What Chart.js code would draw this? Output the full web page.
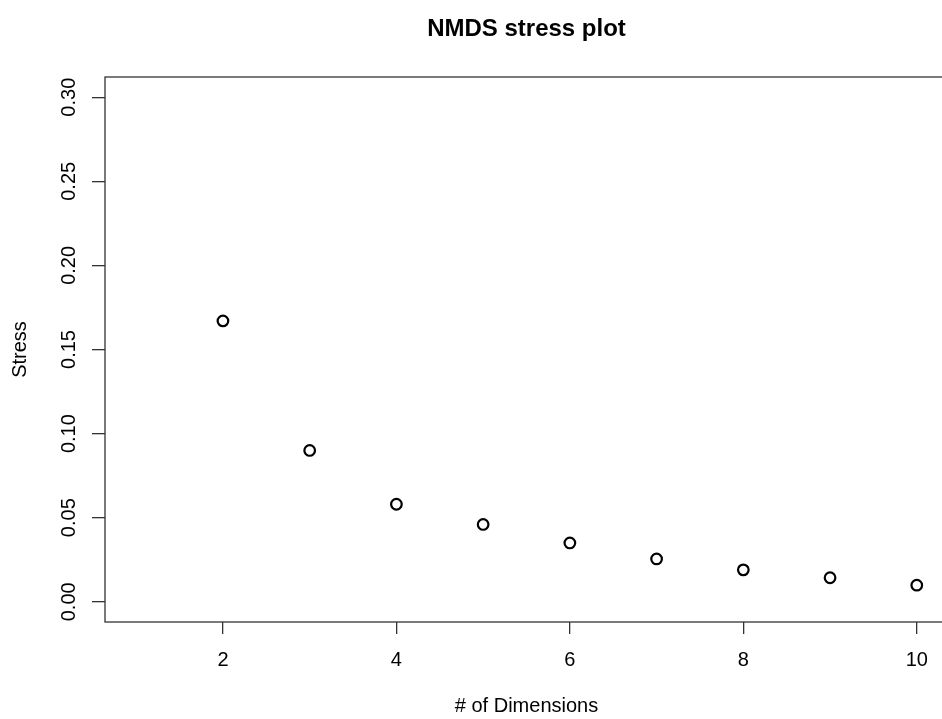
<!DOCTYPE html>
<html><head><meta charset="utf-8">
<script src="https://cdn.jsdelivr.net/npm/chart.js@4"></script>
<style>html,body{margin:0;padding:0;overflow:hidden;background:#fff;width:942px;height:719px}
#wrap{width:942px;height:719px;overflow:hidden}
canvas{display:block}</style></head>
<body><div id="wrap"><canvas id="c" width="950" height="719" style="width:950px;height:719px"></canvas></div>
<script>
const chartTitle = 'NMDS stress plot';
const xLabel = '# of Dimensions';
const yLabel = 'Stress';
const dimensions = [2, 3, 4, 5, 6, 7, 8, 9, 10];
const stress = [0.167, 0.090, 0.058, 0.046, 0.035, 0.0255, 0.019, 0.0143, 0.0099];
const xTicks = [2, 4, 6, 8, 10];
const yTicks = [0, 0.05, 0.10, 0.15, 0.20, 0.25, 0.30];
const yTickLabels = ['0.00', '0.05', '0.10', '0.15', '0.20', '0.25', '0.30'];

const FONT = '"Liberation Sans", Arial, Helvetica, sans-serif';
Chart.defaults.font.family = FONT;
Chart.defaults.color = '#000';

const framePlugin = {
  id: 'frame',
  afterDraw(chart) {
    const {ctx, chartArea: a, scales} = chart;
    ctx.save();
    ctx.strokeStyle = '#333';
    ctx.lineWidth = 1.3;
    ctx.strokeRect(a.left, a.top, a.right - a.left, a.bottom - a.top);
    // title
    ctx.fillStyle = '#000';
    ctx.font = 'bold 24px ' + FONT;
    ctx.textAlign = 'center';
    ctx.textBaseline = 'middle';
    ctx.fillText(chartTitle, (a.left + a.right) / 2, 29);
    // rotated y tick labels
    ctx.font = '20px ' + FONT;
    const ys = scales.y;
    ys.ticks.forEach((t) => {
      const i = yTicks.indexOf(t.value);
      const y = ys.getPixelForValue(t.value);
      ctx.save();
      ctx.translate(69, y);
      ctx.rotate(-Math.PI / 2);
      ctx.fillText(i >= 0 ? yTickLabels[i] : String(t.value), 0, 0);
      ctx.restore();
    });
    ctx.restore();
  }
};

new Chart(document.getElementById('c'), {
  type: 'scatter',
  data: {
    datasets: [{
      data: dimensions.map((d, i) => ({x: d, y: stress[i]})),
      pointStyle: 'circle',
      pointRadius: 5.3,
      pointHoverRadius: 5.3,
      borderWidth: 2.2,
      borderColor: '#000',
      backgroundColor: 'rgba(0,0,0,0)',
      showLine: false
    }]
  },
  options: {
    responsive: false,
    animation: false,
    events: [],
    layout: {autoPadding: false, padding: {top: 77, left: 0, right: 2, bottom: 0}},
    plugins: {legend: {display: false}, title: {display: false}, tooltip: {enabled: false}},
    scales: {
      x: {
        type: 'linear',
        min: 0.64, max: 10.36,
        afterBuildTicks: (s) => { s.ticks = xTicks.map(v => ({value: v})); },
        afterFit: (s) => { s.height = 97; s.paddingLeft = 0; s.paddingRight = 0; },
        grid: {drawOnChartArea: false, drawTicks: true, tickLength: 12, color: '#333', lineWidth: 1.3},
        border: {display: false},
        ticks: {font: {size: 20}, color: '#000', padding: 14, maxRotation: 0, autoSkip: false},
        title: {display: true, text: xLabel, font: {size: 20}, color: '#000', padding: {top: 0, bottom: 1}}
      },
      y: {
        type: 'linear',
        min: -0.012, max: 0.312,
        afterBuildTicks: (s) => { s.ticks = yTicks.map(v => ({value: v})); },
        afterFit: (s) => { s.width = 105; s.paddingTop = 0; s.paddingBottom = 0; },
        grid: {drawOnChartArea: false, drawTicks: true, tickLength: 13, color: '#333', lineWidth: 1.3},
        border: {display: false},
        ticks: {display: false},
        title: {display: true, text: yLabel, font: {size: 20}, color: '#000', padding: {top: 8, bottom: 0}}
      }
    }
  },
  plugins: [framePlugin]
});
</script>
</body></html>
